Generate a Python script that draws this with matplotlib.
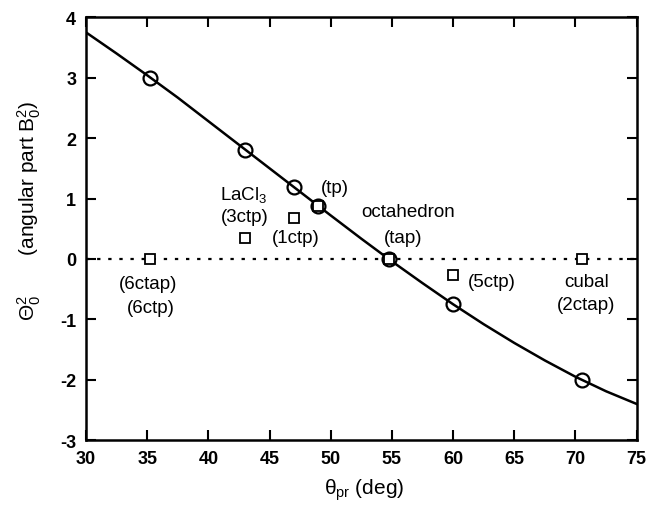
import matplotlib
matplotlib.use("Agg")
import matplotlib.pyplot as plt

plt.rcParams['font.family'] = ['Liberation Sans', 'DejaVu Sans']
plt.rcParams['mathtext.fontset'] = 'custom'
plt.rcParams['mathtext.rm'] = 'Liberation Sans'
plt.rcParams['mathtext.it'] = 'Liberation Sans'
plt.rcParams['mathtext.bf'] = 'Liberation Sans:bold'
plt.rcParams['axes.unicode_minus'] = False

# curve values
curve_x = [30, 32.5, 35, 37.5, 40, 42.5, 45, 47.5, 50, 52.5, 55, 57.5, 60, 62.5, 65, 67.5, 70, 72.5, 75]
curve_y = [3.75, 3.40, 3.04, 2.67, 2.28, 1.89, 1.50, 1.11, 0.72, 0.335, -0.04, -0.40, -0.75, -1.08, -1.39, -1.68, -1.95, -2.19, -2.40]

circle_x = [35.26, 43, 47, 49, 54.74, 60, 70.53]
circle_y = [3.0, 1.81, 1.19, 0.87, 0.0, -0.75, -2.0]

square_x = [35.26, 43, 47, 49, 54.74, 60, 70.53]
square_y = [0.0, 0.34, 0.68, 0.87, 0.0, -0.26, 0.0]

labels = ["LaCl$_3$", "(3ctp)", "(1ctp)", "(tp)", "octahedron", "(tap)", "(5ctp)",
          "cubal", "(2ctap)", "(6ctap)", "(6ctp)"]
label_x = [42.9, 43.0, 47.15, 50.3, 56.3, 55.9, 63.2, 70.9, 70.9, 35.1, 35.3]
label_y = [1.08, 0.70, 0.36, 1.19, 0.79, 0.36, -0.37, -0.37, -0.76, -0.41, -0.80]

fig = plt.figure(figsize=(6.51, 5.06), dpi=100)
ax = fig.add_axes([0.132, 0.128, 0.846, 0.836])

ax.plot([30, 75], [0, 0], color='black', linestyle=(0, (1.5, 3.5)), linewidth=1.6, zorder=1)
ax.plot(curve_x, curve_y, color='black', linewidth=1.8, zorder=2)
ax.plot(square_x, square_y, linestyle='none', marker='s', markersize=6.5,
        markerfacecolor='white', markeredgecolor='black', markeredgewidth=1.3, zorder=3)
ax.plot(circle_x, circle_y, linestyle='none', marker='o', markersize=10,
        markerfacecolor='none', markeredgecolor='black', markeredgewidth=1.6, zorder=4)

for t, x, y in zip(labels, label_x, label_y):
    ax.text(x, y, t, ha='center', va='center', fontsize=13.5)

ax.set_xlim(30, 75)
ax.set_ylim(-3, 4)
ax.set_xticks([30, 35, 40, 45, 50, 55, 60, 65, 70, 75])
ax.set_yticks([-3, -2, -1, 0, 1, 2, 3, 4])
ax.tick_params(direction='in', length=7, width=1.5, labelsize=13, pad=7,
               top=True, right=True)
for lab in ax.get_xticklabels() + ax.get_yticklabels():
    lab.set_fontweight('bold')
for s in ax.spines.values():
    s.set_linewidth(1.8)

ax.set_xlabel(r'$\theta_{pr}$ (deg)', fontsize=15)
ax.xaxis.set_label_coords(0.505, -0.085)
ax.set_ylabel(r'$\Theta_0^2$       (angular part B$_0^2$)', fontsize=15)
ax.yaxis.set_label_coords(-0.078, 0.545)

fig.savefig('out.png', dpi=100)
